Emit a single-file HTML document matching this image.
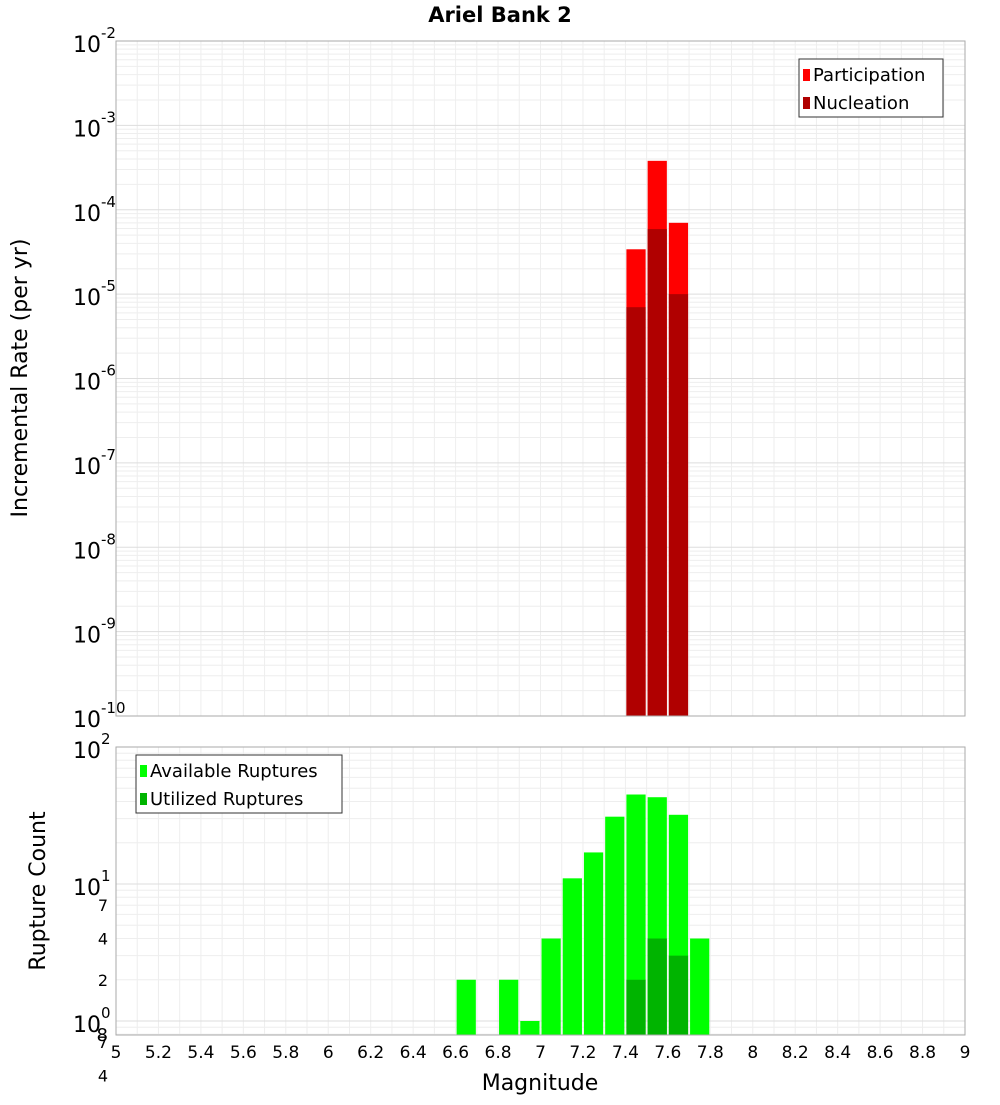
<!DOCTYPE html>
<html><head><meta charset="utf-8"><style>
body{margin:0;background:#fff;font-family:"Liberation Sans","DejaVu Sans",sans-serif}
svg text{font-family:"DejaVu Sans","Liberation Sans",sans-serif}
</style></head><body>
<svg id="c" width="1000" height="1100" xmlns="http://www.w3.org/2000/svg">
<text x="500" y="22" text-anchor="middle" font-size="21" font-weight="bold">Ariel Bank 2</text>
<text transform="translate(27,378) rotate(-90)" text-anchor="middle" font-size="22">Incremental Rate (per yr)</text>
<text transform="translate(45,891) rotate(-90)" text-anchor="middle" font-size="22">Rupture Count</text>
<text x="540" y="1090" text-anchor="middle" font-size="22">Magnitude</text>
<g id="g"></g>
</svg>
<script>
const rateBins=[7.45,7.55,7.65];
const participation=[3.4e-5,3.8e-4,7e-5];
const nucleation=[7e-6,5.9e-5,1e-5];
const countBins=[6.65,6.85,6.95,7.05,7.15,7.25,7.35,7.45,7.55,7.65,7.75];
const available=[2,2,1,4,11,17,31,45,43,32,4];
const utilBins=[7.45,7.55,7.65];
const utilized=[2,4,3];
const xTicks=[5,5.2,5.4,5.6,5.8,6,6.2,6.4,6.6,6.8,7,7.2,7.4,7.6,7.8,8,8.2,8.4,8.6,8.8,9];
const topExp=[-2,-3,-4,-5,-6,-7,-8,-9,-10];
const botMinor=[[7,'7'],[4,'4'],[2,'2'],[0.7,'7'],[0.4,'4'],[0.2,'2']];

const NS='http://www.w3.org/2000/svg',g=document.getElementById('g');
function el(t,a,txt){const e=document.createElementNS(NS,t);for(const k in a)e.setAttribute(k,a[k]);if(txt!=null)e.textContent=txt;g.appendChild(e);return e;}
const L=116,R=965;
const X=m=>L+(m-5)/4*(R-L);
const T0=41,T1=716;
const YT=v=>T0+(-2-Math.log10(v))/8*(T1-T0);
const B0=747,B1=1035,DEC=137;
const YB=v=>B0+(2-Math.log10(v))*DEC;

// backgrounds and grids
for(const [t,b] of [[T0,T1],[B0,B1]]){
  for(let m=5;m<=9.001;m+=0.1){const e=el('line',{x1:X(m),x2:X(m),y1:t,y2:b,stroke:'#eee','stroke-width':1});}
}
for(let d=-10;d<-2;d++)for(let k=1;k<10;k++){const y=YT(k*Math.pow(10,d));const e=el('line',{x1:L,x2:R,y1:y,y2:y,stroke:k==1?'#ddd':'#eee'});}
for(let d=-1;d<2;d++)for(let k=1;k<10;k++){const v=k*Math.pow(10,d);const y=YB(v);if(y>B1||y<B0)continue;const e=el('line',{x1:L,x2:R,y1:y,y2:y,stroke:k==1?'#ddd':'#eee'});}

// top bars
rateBins.forEach((m,i)=>{
  let e=el('rect',{x:X(m-0.05)+1,width:X(m+0.05)-X(m-0.05)-2,y:YT(participation[i]),height:T1-YT(participation[i]),fill:'#ff0000'});
  
  e=el('rect',{x:X(m-0.05)+1,width:X(m+0.05)-X(m-0.05)-2,y:YT(nucleation[i]),height:T1-YT(nucleation[i]),fill:'#b00000'});
  
});
countBins.forEach((m,i)=>{
  const e=el('rect',{x:X(m-0.05)+1,width:X(m+0.05)-X(m-0.05)-2,y:YB(available[i]),height:B1-YB(available[i]),fill:'#00ff00'});
  
});
utilBins.forEach((m,i)=>{
  const e=el('rect',{x:X(m-0.05)+1,width:X(m+0.05)-X(m-0.05)-2,y:YB(utilized[i]),height:B1-YB(utilized[i]),fill:'#00b400'});
  
});
let f=el('rect',{x:L,y:T0,width:R-L,height:T1-T0,fill:'none',stroke:'#aaa'});
f=el('rect',{x:L,y:B0,width:R-L,height:B1-B0,fill:'none',stroke:'#aaa'});

// top y labels
topExp.forEach(d=>{
  const y=YT(Math.pow(10,d));
  const t=el('text',{x:73,y:y+11,'font-size':22});
  t.innerHTML='10<tspan dy="-14" font-size="15">'+d+'</tspan>';
});
// bottom y labels
[[2,'2'],[1,'1'],[0,'0']].forEach(([d,s])=>{
  const y=YB(Math.pow(10,d));
  const t=el('text',{x:73,y:y+11,'font-size':22});
  t.innerHTML='10<tspan dy="-14" font-size="15">'+s+'</tspan>';
});
botMinor.forEach(([v,s])=>{const t=el('text',{x:108,y:YB(v)+6,'font-size':16,'text-anchor':'end'},s);});
let t8=el('text',{x:108,y:1041,'font-size':18,'text-anchor':'end'},'8');
// x labels
xTicks.forEach(m=>{const t=el('text',{x:X(m),y:1058,'font-size':17,'text-anchor':'middle'},String(m));});

// legends
function legend(x,y,w,items,name){
  const r=el('rect',{x:x,y:y,width:w,height:58,fill:'#fff',stroke:'#333'});
  items.forEach(([c,s],i)=>{
    const sw=el('rect',{x:x+4,y:y+10+i*28,width:7,height:12,fill:c});
    const t=el('text',{x:x+14,y:y+22+i*28,'font-size':18},s);
  });
}
legend(799,59,144,[['#ff0000','Participation'],['#b00000','Nucleation']],'top-legend');
legend(136,755,206,[['#00ff00','Available Ruptures'],['#00b400','Utilized Ruptures']],'bottom-legend');
</script>
</body></html>
